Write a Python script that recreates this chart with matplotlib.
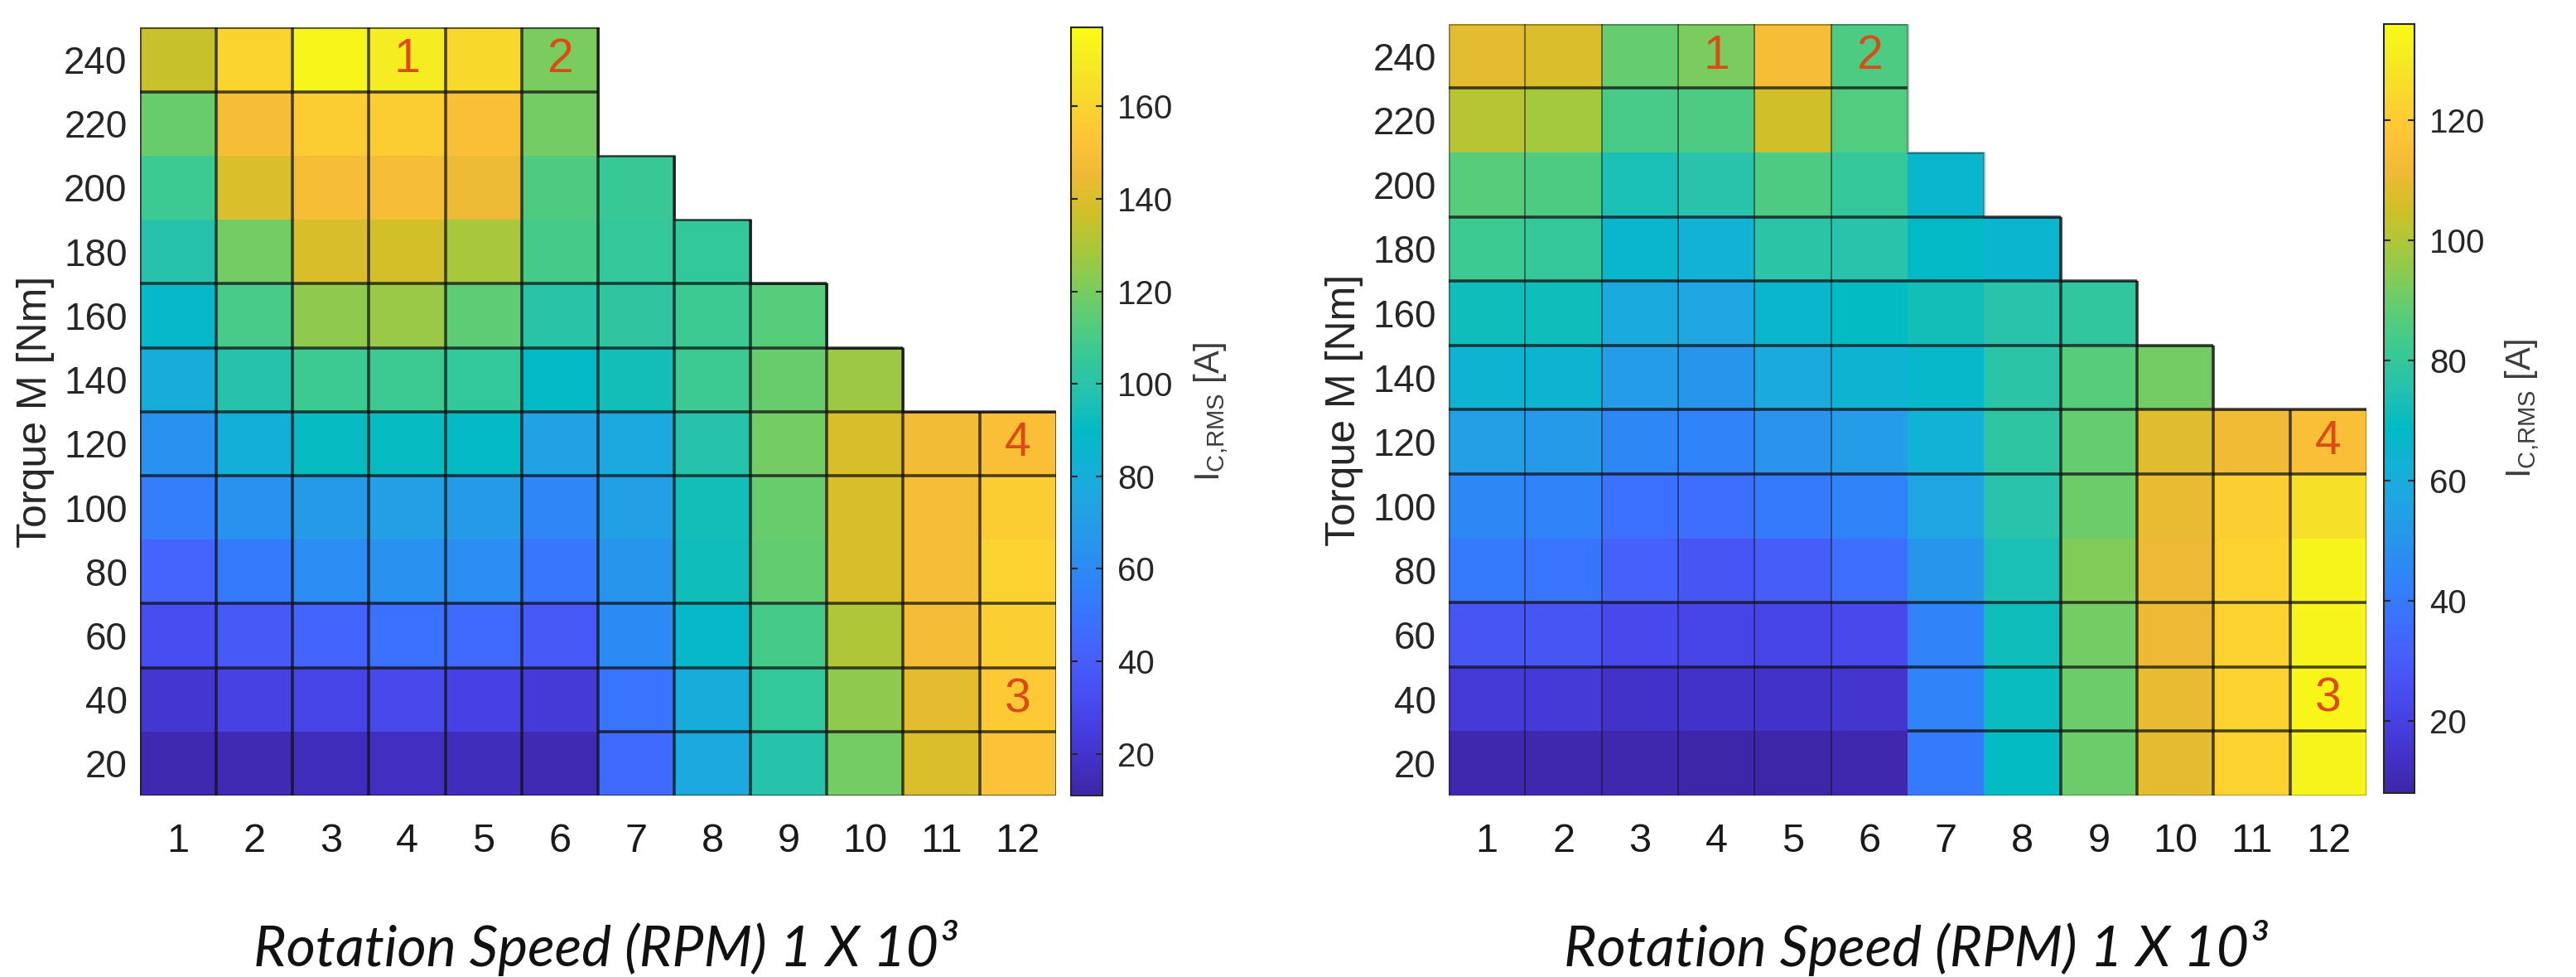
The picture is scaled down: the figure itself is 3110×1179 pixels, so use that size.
"""
Capacitor RMS current maps over the torque / speed operating range.

Two side-by-side cell maps (parula colours) with a colourbar each,
operating-point markers 1-4 and the block separators of the original figure.
"""

import numpy as np
import matplotlib
matplotlib.use("Agg")
import matplotlib.pyplot as plt
from matplotlib.colors import LinearSegmentedColormap

nan = np.nan

# ── Data ─────────────────────────────────────────────────────────────────────

SPEED = [1, 2, 3, 4, 5, 6, 7, 8, 9, 10, 11, 12]            # x 1000 RPM
TORQUE = [240, 220, 200, 180, 160, 140, 120, 100, 80, 60, 40, 20]  # Nm, top row first

# I_C,RMS [A], left map (rows follow TORQUE, columns follow SPEED)
CURRENT_LEFT = [
    [135, 160, 174, 170, 162, 120, nan, nan, nan, nan, nan, nan],
    [117, 149, 157, 157, 150, 119, nan, nan, nan, nan, nan, nan],
    [107, 140, 149, 149, 144, 112, 106, nan, nan, nan, nan, nan],
    [99, 119, 139, 138, 129, 109, 105, 104, nan, nan, nan, nan],
    [88, 110, 124, 126, 115, 100, 103, 107, 114, nan, nan, nan],
    [79, 99, 107, 107, 104, 89, 94, 107, 117, 127, nan, nan],
    [64, 81, 91, 91, 89, 72, 77, 99, 119, 139, 147, 150],
    [54, 64, 69, 71, 69, 58, 71, 94, 117, 139, 149, 157],
    [43, 53, 62, 64, 62, 51, 66, 93, 116, 139, 149, 159],
    [33, 38, 44, 48, 46, 38, 60, 88, 109, 130, 148, 158],
    [21, 26, 28, 31, 27, 23, 50, 79, 104, 124, 142, 155],
    [13, 14, 16, 17, 16, 14, 46, 77, 99, 119, 140, 152],
]

# I_C,RMS [A], right map
CURRENT_RIGHT = [
    [109, 107, 89, 92, 114, 85, nan, nan, nan, nan, nan, nan],
    [101, 98, 84, 85, 105, 86, nan, nan, nan, nan, nan, nan],
    [87, 85, 73, 76, 85, 80, 66, nan, nan, nan, nan, nan],
    [82, 80, 66, 63, 77, 76, 68, 65, nan, nan, nan, nan],
    [71, 71, 59, 57, 66, 69, 72, 76, 79, nan, nan, nan],
    [64, 64, 53, 50, 59, 64, 67, 77, 87, 91, nan, nan],
    [54, 52, 45, 43, 49, 53, 63, 78, 89, 108, 112, 115],
    [45, 43, 37, 36, 40, 43, 57, 76, 90, 110, 121, 127],
    [40, 38, 31, 27, 30, 36, 50, 73, 93, 111, 122, 133],
    [27, 27, 23, 21, 21, 23, 43, 71, 91, 111, 122, 133],
    [17, 17, 14, 14, 14, 15, 43, 70, 90, 110, 122, 134],
    [9, 9, 9, 8, 8, 9, 40, 69, 90, 109, 122, 133],
]

CLIM_LEFT = (11, 177)
CLIM_RIGHT = (8, 136)
CBAR_TICKS_LEFT = [20, 40, 60, 80, 100, 120, 140, 160]
CBAR_TICKS_RIGHT = [20, 40, 60, 80, 100, 120]

# operating points: (label, speed, torque)
MARKERS = [("1", 4, 240), ("2", 6, 240), ("4", 12, 120), ("3", 12, 40)]

# block separators: (torque boundary, first speed column)
HSEP_LEFT = [(230, 1), (170, 1), (150, 1), (130, 1), (110, 1), (70, 1), (50, 1), (30, 7)]
HSEP_RIGHT = [(230, 1), (190, 1), (170, 1), (150, 1), (130, 1), (110, 1), (70, 1), (50, 1), (30, 7)]
# vertical separators after these speed columns: (strong, thin)
VSEP_LEFT = ([1, 2, 3, 4, 5, 6, 7, 8, 9, 10, 11], [])
VSEP_RIGHT = ([8, 9, 10, 11], [1, 2, 3, 4, 5])

# ── Style ────────────────────────────────────────────────────────────────────

PARULA = LinearSegmentedColormap.from_list("parula", [
    (0.2422, 0.1504, 0.6603), (0.2647, 0.1978, 0.7952), (0.2783, 0.2559, 0.8991),
    (0.2810, 0.3228, 0.9579), (0.2699, 0.3892, 0.9906), (0.2206, 0.4603, 0.9973),
    (0.1786, 0.5289, 0.9682), (0.1540, 0.5902, 0.9218), (0.1248, 0.6459, 0.8883),
    (0.0689, 0.6948, 0.8394), (0.0067, 0.7312, 0.7660), (0.1408, 0.7584, 0.6842),
    (0.2161, 0.7843, 0.5923), (0.3406, 0.8008, 0.4789), (0.5044, 0.7993, 0.3480),
    (0.6720, 0.7793, 0.2227), (0.8203, 0.7498, 0.1535), (0.9393, 0.7288, 0.2100),
    (0.9970, 0.7659, 0.2199), (0.9786, 0.8386, 0.1766), (0.9597, 0.9135, 0.1423),
    (0.9769, 0.9839, 0.0805),
], N=256)

plt.rcParams["font.family"] = ["Liberation Sans", "DejaVu Sans"]
TEXT_COLOR = "#262626"
MARK_COLOR = "#DD4A18"
LINE_COLOR = "#101010"


def draw_map(ax, cax, values, clim, cticks, hsep, vsep, outline_alpha):
    speed = np.array(SPEED)
    torque = np.array(TORQUE[::-1])
    z = np.ma.masked_invalid(np.array(values, dtype=float)[::-1])

    xe = np.r_[speed[0] - 0.5, speed + 0.5]
    ye = np.r_[torque[0] - 10, torque + 10]
    mesh = ax.pcolormesh(xe, ye, z, cmap=PARULA, vmin=clim[0], vmax=clim[1])

    # top edge of every column
    col_top = np.array([torque[~z.mask[:, j]].max() + 10 for j in range(len(speed))])

    # horizontal separators span the columns that have a cell just below
    for level, first in hsep:
        row = int(np.where(torque == level - 10)[0][0])
        last = np.where(~z.mask[row])[0].max()
        ax.hlines(level, first - 0.5, speed[last] + 0.5, color=LINE_COLOR,
                  linewidth=2.6, alpha=0.75, zorder=3)

    strong, thin = vsep
    for cols, lw, a in ((strong, 2.6, 0.75), (thin, 1.3, 0.55)):
        for k in cols:
            top = max(col_top[k - 1], col_top[k])
            ax.vlines(k + 0.5, ye[0], top, color=LINE_COLOR, linewidth=lw, alpha=a, zorder=3)

    # stepped outline of the map
    xs, ys = [xe[0]], [ye[0]]
    for j in range(len(speed)):
        xs += [xe[j], xe[j + 1]]
        ys += [col_top[j], col_top[j]]
    xs += [xe[-1], xe[0]]
    ys += [ye[0], ye[0]]
    ax.plot(xs, ys, color=LINE_COLOR, linewidth=2.0, alpha=outline_alpha, zorder=3)

    for label, sx, tq in MARKERS:
        ax.text(sx, tq, label, ha="center", va="center", fontsize=41,
                color=MARK_COLOR, zorder=4)

    ax.set_xlim(xe[0], xe[-1])
    ax.set_ylim(ye[0], ye[-1])
    ax.set_xticks(SPEED)
    ax.set_xticklabels([str(s) for s in SPEED], family=["Liberation Sans Narrow", "Liberation Sans"],
                       fontsize=35, color="#1a1a1a")
    ax.set_yticks(TORQUE)
    ax.set_yticklabels([str(t) for t in TORQUE], fontsize=33, color=TEXT_COLOR)
    ax.tick_params(axis="x", length=0, pad=24)
    ax.tick_params(axis="y", length=0, pad=11)
    for sp in ax.spines.values():
        sp.set_visible(False)
    ax.set_ylabel("Torque M [Nm]", fontsize=36, color=TEXT_COLOR, labelpad=8)

    cbar = plt.colorbar(mesh, cax=cax, ticks=cticks)
    cbar.outline.set_edgecolor(TEXT_COLOR)
    cbar.outline.set_linewidth(1.5)
    cax.tick_params(direction="in", length=6, width=1.5, colors=TEXT_COLOR,
                    labelsize=29, pad=13, left=True)
    cbar.set_label(r"$\mathregular{I_{C{,}RMS}}$ [A]", fontsize=30, color="#3c3c3c", labelpad=16)

    pos = ax.get_position()
    ax.figure.text(pos.x0 + pos.width / 2 + 0.003, 0.03, "Rotation Speed (RPM) 1 X 10³",
                   family=["Lato", "DejaVu Sans"], style="italic", fontsize=49,
                   ha="center", va="center", color="#111111")


fig = plt.figure(figsize=(31.1, 11.79), dpi=100)
fig.patch.set_facecolor("white")

ax1 = fig.add_axes([0.0543, 0.1858, 0.3556, 0.7858])
cax1 = fig.add_axes([0.4158, 0.1858, 0.0122, 0.7858])
ax2 = fig.add_axes([0.5624, 0.1858, 0.3563, 0.7897])
cax2 = fig.add_axes([0.9254, 0.1883, 0.0119, 0.7870])

draw_map(ax1, cax1, CURRENT_LEFT, CLIM_LEFT, CBAR_TICKS_LEFT, HSEP_LEFT, VSEP_LEFT, 0.7)
draw_map(ax2, cax2, CURRENT_RIGHT, CLIM_RIGHT, CBAR_TICKS_RIGHT, HSEP_RIGHT, VSEP_RIGHT, 0.35)

fig.savefig("out.png", dpi=100, facecolor="white")
